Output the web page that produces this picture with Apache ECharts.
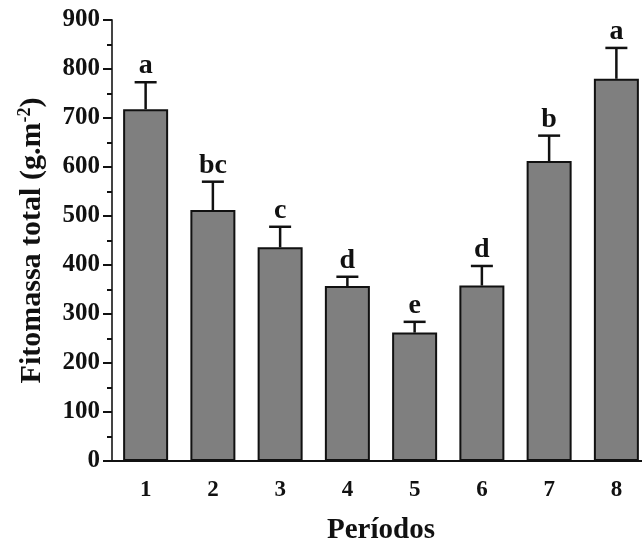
<!DOCTYPE html>
<html>
<head>
<meta charset="utf-8">
<script src="https://cdn.jsdelivr.net/npm/echarts@6/dist/echarts.min.js"></script>
<style>html,body{margin:0;padding:0;background:#fff}#c{width:642px;height:542px}</style>
</head>
<body>
<div id="c"></div>
<script>
const categories = ['1', '2', '3', '4', '5', '6', '7', '8'];
const means = [718, 512, 436, 357, 262, 358, 612, 780];
const errors = [55, 58, 42, 19, 22, 40, 52, 63];
const letters = ['a', 'bc', 'c', 'd', 'e', 'd', 'b', 'a'];
const yTicks = [0, 100, 200, 300, 400, 500, 600, 700, 800, 900];

const FONT = '"Liberation Serif", "Times New Roman", serif';
const chart = echarts.init(document.getElementById('c'));

const errData = categories.map((c, i) => [i, means[i], means[i] + errors[i], letters[i]]);

chart.setOption({
  animation: false,
  backgroundColor: '#fff',
  grid: { left: 112, top: 20, width: 538, height: 441, outerBoundsMode: 'none', containLabel: false },
  xAxis: {
    type: 'category',
    data: categories,
    name: 'Períodos',
    nameLocation: 'middle',
    nameGap: 55,
    nameTextStyle: { fontFamily: FONT, fontWeight: 'bold', fontSize: 29, color: '#111' },
    axisLine: { lineStyle: { color: '#111', width: 2 } },
    axisTick: { alignWithLabel: true, length: 8, lineStyle: { color: '#111', width: 2 } },
    axisLabel: { fontFamily: FONT, fontWeight: 'bold', fontSize: 23, color: '#111', margin: 18 }
  },
  yAxis: {
    type: 'value',
    min: yTicks[0],
    max: yTicks[yTicks.length - 1],
    interval: 100,
    name: 'Fitomassa total (g.m{sup|-2})',
    nameLocation: 'middle',
    nameGap: 64,
    nameTextStyle: {
      fontFamily: FONT, fontWeight: 'bold', fontSize: 30, color: '#111',
      rich: { sup: { fontFamily: FONT, fontWeight: 'bold', fontSize: 18, color: '#111', verticalAlign: 'bottom', padding: [0, 0, 14, 0] } }
    },
    splitLine: { show: false },
    axisLine: { show: true, lineStyle: { color: '#444', width: 2 } },
    axisTick: { show: true, length: 9, lineStyle: { color: '#111', width: 2 } },
    minorTick: { show: true, splitNumber: 2, length: 5, lineStyle: { color: '#111', width: 2 } },
    axisLabel: { fontFamily: FONT, fontWeight: 'bold', fontSize: 25, color: '#111', margin: 12 }
  },
  series: [
    {
      type: 'bar',
      data: means,
      barWidth: 45,
      itemStyle: { color: '#7f7f7f', borderColor: '#111', borderWidth: 2 }
    },
    {
      type: 'custom',
      data: errData,
      z: 5,
      clip: false,
      renderItem: function (params, api) {
        const base = api.coord([api.value(0), api.value(1)]);
        const top = api.coord([api.value(0), api.value(2)]);
        const hw = 11;
        return {
          type: 'group',
          children: [
            { type: 'line', shape: { x1: base[0], y1: base[1], x2: top[0], y2: top[1] }, style: { stroke: '#111', lineWidth: 2.5 } },
            { type: 'line', shape: { x1: top[0] - hw, y1: top[1], x2: top[0] + hw, y2: top[1] }, style: { stroke: '#111', lineWidth: 2.5 } },
            { type: 'text', x: top[0], y: top[1] - 2, style: { text: letters[params.dataIndex], fontFamily: FONT, fontWeight: 'bold', fontSize: 28, fill: '#111', align: 'center', verticalAlign: 'bottom' } }
          ]
        };
      }
    }
  ]
});
</script>
</body>
</html>
